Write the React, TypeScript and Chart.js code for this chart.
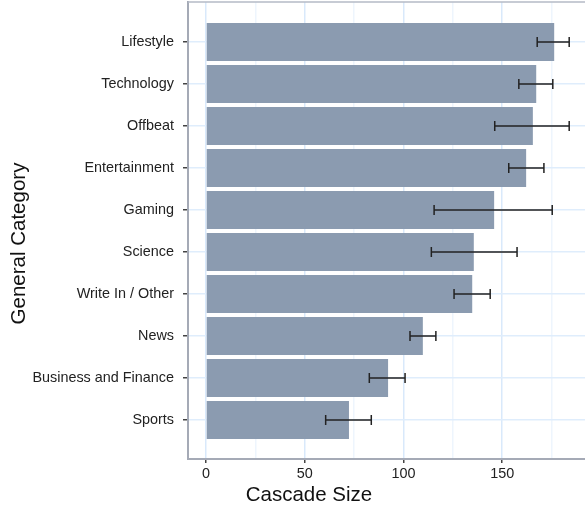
import React, { useEffect, useRef } from "react";
import { Chart, registerables } from "chart.js";

Chart.register(...registerables);

const categories = [
  "Lifestyle",
  "Technology",
  "Offbeat",
  "Entertainment",
  "Gaming",
  "Science",
  "Write In / Other",
  "News",
  "Business and Finance",
  "Sports",
];
const cascadeSize = [176.3, 167.2, 165.5, 162.1, 145.9, 135.6, 134.8, 109.8, 92.2, 72.4];
const errorLow = [167.7, 158.4, 146.2, 153.3, 115.5, 114.1, 125.6, 103.3, 82.7, 60.6];
const errorHigh = [183.9, 175.6, 183.9, 171.1, 175.3, 157.5, 143.9, 116.4, 100.8, 83.7];
const xTickValues = [0, 25, 50, 75, 100, 125, 150, 175];
const xLabelEvery = 50;
const xTitle = "Cascade Size";
const yTitle = "General Category";

const FONT = '"Liberation Sans", Arial, Helvetica, sans-serif';

const errorBarPlugin = {
  id: "errorBars",
  afterDatasetsDraw(chart: any) {
    const { ctx, scales } = chart;
    const xs = scales.x;
    const ys = scales.y;
    ctx.save();
    ctx.strokeStyle = "#222222";
    ctx.lineWidth = 1.5;
    const cap = 5;
    categories.forEach((_, i) => {
      const y = ys.getPixelForValue(i);
      const x1 = xs.getPixelForValue(errorLow[i]);
      const x2 = xs.getPixelForValue(errorHigh[i]);
      ctx.beginPath();
      ctx.moveTo(x1, y);
      ctx.lineTo(x2, y);
      ctx.moveTo(x1, y - cap);
      ctx.lineTo(x1, y + cap);
      ctx.moveTo(x2, y - cap);
      ctx.lineTo(x2, y + cap);
      ctx.stroke();
    });
    ctx.restore();
  },
};

const framePlugin = {
  id: "frameAndTitles",
  afterDraw(chart: any) {
    const { ctx, chartArea } = chart;
    ctx.save();
    ctx.strokeStyle = "#b4bac6";
    ctx.lineWidth = 1.5;
    ctx.beginPath();
    ctx.moveTo(chartArea.left, chartArea.top);
    ctx.lineTo(chartArea.right, chartArea.top);
    ctx.stroke();

    ctx.fillStyle = "#111111";
    ctx.font = `20.5px ${FONT}`;
    ctx.textAlign = "center";
    ctx.textBaseline = "alphabetic";
    ctx.fillText(xTitle, 309, 501);

    ctx.translate(24.5, 243.5);
    ctx.rotate(-Math.PI / 2);
    ctx.fillText(yTitle, 0, 0);
    ctx.restore();
  },
};

export default function App() {
  const ref = useRef<HTMLCanvasElement | null>(null);

  useEffect(() => {
    const canvas = ref.current;
    if (!canvas) return;
    const chart = new Chart(canvas, {
      type: "bar",
      data: {
        datasets: [
          {
            data: cascadeSize.map((v, i) => ({ x: v, y: i })),
            backgroundColor: "#8b9bb0",
            borderWidth: 0,
            barPercentage: 0.905,
            categoryPercentage: 1,
          },
        ],
      },
      options: {
        indexAxis: "y",
        responsive: false,
        animation: false,
        devicePixelRatio: 1,
        layout: { padding: { top: 2, right: 0, left: 0, bottom: 0 } },
        plugins: {
          legend: { display: false },
          tooltip: { enabled: false },
        },
        scales: {
          x: {
            type: "linear",
            min: -9.1,
            max: 191.9,
            offset: false,
            afterBuildTicks: (scale: any) => {
              scale.ticks = xTickValues.map((v) => ({ value: v }));
            },
            afterFit: (scale: any) => {
              scale.height = 48;
              scale.paddingLeft = 0;
              scale.paddingRight = 0;
            },
            ticks: {
              autoSkip: false,
              maxRotation: 0,
              padding: 2,
              color: "#222222",
              font: { family: FONT, size: 14.4 },
              callback: (v: any) => (Number(v) % xLabelEvery === 0 ? String(v) : ""),
            },
            grid: {
              offset: false,
              color: (ctx: any) =>
                ctx.tick && ctx.tick.value % xLabelEvery === 0 ? "#d9e9fb" : "#eef5fd",
              lineWidth: 1.5,
              tickLength: 4,
              tickColor: (ctx: any) =>
                ctx.tick && ctx.tick.value % xLabelEvery === 0 ? "#444444" : "rgba(0,0,0,0)",
            },
            border: { display: true, color: "#a5aab6", width: 2 },
          },
          y: {
            type: "linear",
            reverse: true,
            min: -0.95,
            max: 9.93,
            offset: false,
            afterBuildTicks: (scale: any) => {
              scale.ticks = categories.map((_, i) => ({ value: i }));
            },
            afterFit: (scale: any) => {
              scale.width = 188;
              scale.paddingTop = 0;
              scale.paddingBottom = 0;
            },
            ticks: {
              autoSkip: false,
              padding: 9,
              color: "#222222",
              font: { family: FONT, size: 14.4 },
              callback: (v: any) => categories[Number(v)] ?? "",
            },
            grid: {
              offset: false,
              color: "#dfedfc",
              lineWidth: 1.5,
              tickLength: 5,
              tickColor: "#444444",
            },
            border: { display: true, color: "#a5aab6", width: 2 },
          },
        },
      },
      plugins: [errorBarPlugin, framePlugin],
    } as any);
    return () => chart.destroy();
  }, []);

  return (
    <div style={{ position: "absolute", left: 0, top: 0, width: 585, height: 507, background: "#fff" }}>
      <canvas ref={ref} width={585} height={507} style={{ display: "block", width: 585, height: 507 }} />
    </div>
  );
}
